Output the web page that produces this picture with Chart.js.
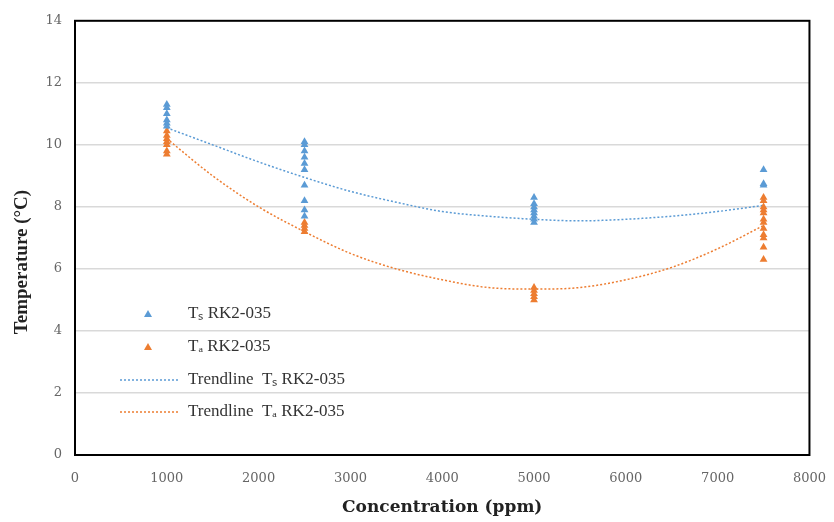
<!DOCTYPE html>
<html lang="en">
<head>
    <meta charset="UTF-8">
    <title>Temperature vs Concentration</title>
    <style>
        body { margin: 0; background: #fff; }
    </style>
</head>
<body>
    <canvas id="myChart" width="834" height="522"></canvas>
    <script src="https://cdn.jsdelivr.net/npm/chart.js@4.4.1/dist/chart.umd.min.js"></script>
    <script>

        // measured points (ppm, °C)
        let concentrations = [1000, 2500, 5000, 7500];
        let tsValues = [
            [11.3, 11.2, 11.0, 10.8, 10.7, 10.6],
            [10.1, 10.0, 9.8, 9.6, 9.4, 9.2, 8.7, 8.2, 7.9, 7.7],
            [8.3, 8.1, 8.0, 7.9, 7.8, 7.7, 7.6, 7.5],
            [9.2, 8.75, 8.7]
        ];
        let taValues = [
            [10.45, 10.3, 10.2, 10.1, 10.0, 9.8, 9.7],
            [7.5, 7.4, 7.3, 7.2],
            [5.4, 5.3, 5.2, 5.1, 5.0],
            [8.3, 8.2, 8.0, 7.9, 7.8, 7.6, 7.5, 7.3, 7.1, 7.0, 6.7, 6.3]
        ];

        // trendlines
        let trendX = [1000, 1500, 2000, 2500, 3000, 3500, 4000, 4500, 5000, 5500, 6000, 6500, 7000, 7500];
        let trendTs = [10.55, 10.0, 9.45, 8.95, 8.5, 8.15, 7.85, 7.7, 7.6, 7.55, 7.6, 7.7, 7.85, 8.05];
        let trendTa = [10.2, 9.0, 8.0, 7.2, 6.5, 6.0, 5.65, 5.4, 5.35, 5.4, 5.65, 6.05, 6.65, 7.4];

        let labels = ['T\u209B RK2-035', 'T\u2090 RK2-035', 'Trendline  T\u209B RK2-035', 'Trendline  T\u2090 RK2-035'];
        let yTicks = [0, 2, 4, 6, 8, 10, 12, 14];
        let xTicks = [0, 1000, 2000, 3000, 4000, 5000, 6000, 7000, 8000];
        let yTitle = 'Temperature (°C)';
        let xTitle = 'Concentration (ppm)';

        const blue = '#5B9BD5';
        const orange = '#ED7D31';

        function toPoints(xs, groups) {
            let pts = [];
            groups.forEach((g, i) => g.forEach(v => pts.push({x: xs[i], y: v})));
            return pts;
        }
        function toLine(xs, ys) {
            return xs.map((x, i) => ({x: x, y: ys[i]}));
        }

        // legend drawn inside the plot, border box and the y title
        const innerLegend = {
            id: 'innerLegend',
            afterDraw(chart) {
                const ctx = chart.ctx;
                const area = chart.chartArea;
                ctx.save();
                ctx.strokeStyle = '#000';
                ctx.lineWidth = 2;
                ctx.strokeRect(area.left, area.top, area.right - area.left, area.bottom - area.top);

                // y title, sits a bit below the middle like the original
                ctx.save();
                ctx.translate(22, 262);
                ctx.rotate(-Math.PI / 2);
                ctx.font = 'bold 19px "Liberation Serif", serif';
                ctx.fillStyle = '#222';
                ctx.textAlign = 'center';
                ctx.textBaseline = 'middle';
                ctx.fillText(yTitle, 0, 0);
                ctx.restore();

                const rows = [314, 347, 380, 412];
                ctx.font = '17px "Liberation Serif", serif';
                ctx.textBaseline = 'middle';
                chart.data.datasets.forEach((ds, i) => {
                    const y = rows[i];
                    if (ds.showLine) {
                        ctx.strokeStyle = ds.borderColor;
                        ctx.lineWidth = 1.5;
                        ctx.setLineDash([2, 2]);
                        ctx.beginPath();
                        ctx.moveTo(120, y);
                        ctx.lineTo(180, y);
                        ctx.stroke();
                        ctx.setLineDash([]);
                    } else {
                        ctx.fillStyle = ds.backgroundColor;
                        ctx.beginPath();
                        ctx.moveTo(148, y - 4);
                        ctx.lineTo(152, y + 3);
                        ctx.lineTo(144, y + 3);
                        ctx.closePath();
                        ctx.fill();
                    }
                    ctx.fillStyle = '#333';
                    ctx.fillText(ds.label, 188, y);
                });
                ctx.restore();
            }
        };

        const ctx = document.getElementById('myChart').getContext('2d');
        const myChart = new Chart(ctx, {
            type: 'scatter',
            data: {
                datasets: [
                    {
                        label: labels[0],
                        data: toPoints(concentrations, tsValues),
                        backgroundColor: blue,
                        borderColor: blue,
                        pointStyle: 'triangle',
                        pointRadius: 4.5,
                        borderWidth: 0
                    },
                    {
                        label: labels[1],
                        data: toPoints(concentrations, taValues),
                        backgroundColor: orange,
                        borderColor: orange,
                        pointStyle: 'triangle',
                        pointRadius: 4.5,
                        borderWidth: 0
                    },
                    {
                        label: labels[2],
                        data: toLine(trendX, trendTs),
                        showLine: true,
                        borderColor: blue,
                        backgroundColor: blue,
                        borderWidth: 1.5,
                        borderDash: [2, 2],
                        pointRadius: 0,
                        cubicInterpolationMode: 'monotone'
                    },
                    {
                        label: labels[3],
                        data: toLine(trendX, trendTa),
                        showLine: true,
                        borderColor: orange,
                        backgroundColor: orange,
                        borderWidth: 1.5,
                        borderDash: [2, 2],
                        pointRadius: 0,
                        cubicInterpolationMode: 'monotone'
                    }
                ]
            },
            options: {
                responsive: false,
                animation: false,
                layout: { padding: { top: 17, right: 23, left: 0, bottom: 0 } },
                plugins: {
                    legend: { display: false },
                    tooltip: { enabled: false }
                },
                scales: {
                    x: {
                        type: 'linear',
                        min: 0,
                        max: 8000,
                        afterBuildTicks: s => { s.ticks = xTicks.map(v => ({value: v})); },
                        afterFit: s => { s.height = 67; },
                        grid: { display: false },
                        border: { display: true, color: '#000', width: 2 },
                        ticks: {
                            color: '#666',
                            padding: 8,
                            callback: v => String(v),
                            font: { family: '"DejaVu Serif", serif', size: 13 }
                        },
                        title: {
                            display: true,
                            text: xTitle,
                            color: '#222',
                            padding: { top: 3 },
                            font: { family: '"DejaVu Serif", serif', size: 17, weight: 'bold' }
                        }
                    },
                    y: {
                        min: 0,
                        max: 14,
                        afterBuildTicks: s => { s.ticks = yTicks.map(v => ({value: v})); },
                        afterFit: s => { s.width = 75; },
                        grid: {
                            color: c => (c.tick && (c.tick.value === 0 || c.tick.value === 14)) ? 'rgba(0,0,0,0)' : '#d9d9d9',
                            lineWidth: 1.5,
                            drawTicks: false
                        },
                        border: { display: true, color: '#000', width: 2 },
                        ticks: {
                            color: '#666',
                            padding: 13,
                            font: { family: '"DejaVu Serif", serif', size: 13 }
                        },
                        title: { display: false }
                    }
                }
            },
            plugins: [innerLegend]
        });

    </script>
</body>
</html>
